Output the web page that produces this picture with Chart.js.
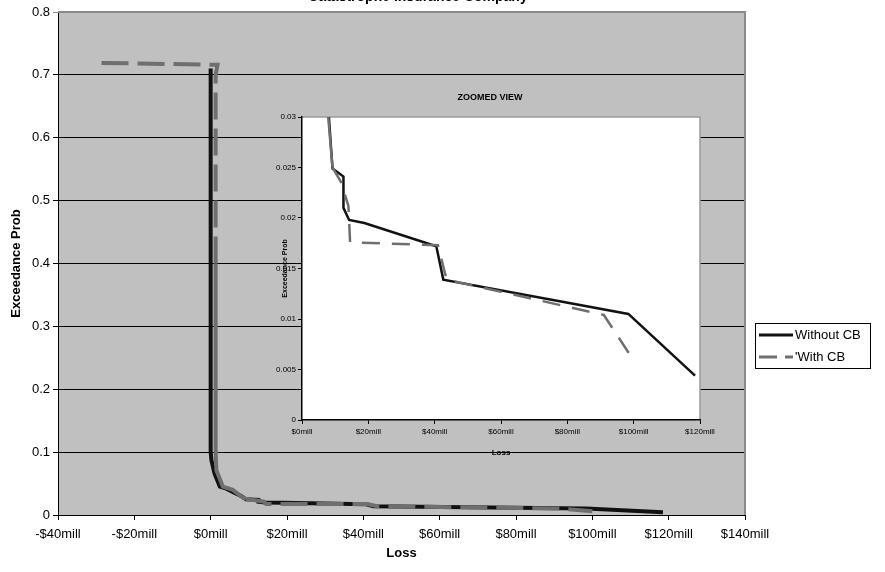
<!DOCTYPE html>
<html>
<head>
<meta charset="utf-8">
<script src="https://cdn.jsdelivr.net/npm/chart.js"></script>
<style>
  body { margin: 0; background: #fff; }
  #wrap { position: relative; width: 885px; height: 572px; }
  #main { position: absolute; left: 0; top: 0; }
  #zoom { position: absolute; left: 255px; top: 80px; }
</style>
</head>
<body>
<div id="wrap">
  <canvas id="main" width="885" height="572"></canvas>
  <canvas id="zoom" width="470" height="385"></canvas>
</div>
<script>
// loss in $mill, exceedance probability
const lossWithout = [0, 0, 0.2, 1.0, 2.4, 4.1, 6.7, 8.1, 9.2, 12.5, 12.5, 14.2, 18.8, 40.5, 42.6, 98.4, 118.5];
const probWithout = [0.71, 0.10, 0.087, 0.066, 0.045, 0.042, 0.034, 0.030, 0.0249, 0.0241, 0.021, 0.0198, 0.0195, 0.0172, 0.0139, 0.0105, 0.0044];
const lossWith = [-28.6, 1.8, 1.3, 1.3, 1.3, 1.5, 3.2, 5.8, 7.9, 9.2, 11.7, 14.0, 14.5, 41.0, 43.6, 60, 91, 100];
const probWith = [0.719, 0.716, 0.70, 0.40, 0.10, 0.071, 0.045, 0.040, 0.030, 0.025, 0.0236, 0.0212, 0.0176, 0.0173, 0.0139, 0.0127, 0.0104, 0.0059];
const seriesNames = ['Without CB', "'With CB"];
const chartTitle = 'Catastrophe Insurance Company';
const zoomTitle = 'ZOOMED VIEW';

const FONT = "'Liberation Sans', Arial, sans-serif";
Chart.defaults.font.family = FONT;
Chart.defaults.color = '#000';

const pts = (xs, ys) => xs.map((x, i) => ({ x: x, y: ys[i] }));
const money = v => (v < 0 ? '-$' + Math.abs(v) : '$' + v) + 'mill';

// the dense steep part of the With CB curve reads as a solid line
function makeSets(w, dash) {
  return [{
    label: seriesNames[0],
    data: pts(lossWithout, probWithout),
    showLine: true, pointRadius: 0, borderColor: '#111', borderWidth: w,
    order: 2
  }, {
    label: seriesNames[1],
    data: pts(lossWith, probWith),
    showLine: true, pointRadius: 0, borderColor: '#6f6f6f', borderWidth: w,
    borderDash: dash, order: 1,
    segment: {
      borderDash: s => (s.p0.parsed.y <= 0.4 && s.p0.parsed.y > 0.025) ? [] : dash
    }
  }];
}

const mainDeco = {
  id: 'mainDeco',
  beforeDraw(c) {
    const a = c.chartArea, ctx = c.ctx;
    ctx.save();
    ctx.fillStyle = '#c0c0c0';
    ctx.fillRect(a.left, a.top, a.right - a.left, a.bottom - a.top);
    ctx.restore();
  },
  afterDraw(c) {
    const a = c.chartArea, ctx = c.ctx;
    ctx.save();
    ctx.strokeStyle = '#8a8a8a';
    ctx.lineWidth = 2;
    ctx.beginPath();
    ctx.moveTo(a.left, a.top); ctx.lineTo(a.right, a.top); ctx.lineTo(a.right, a.bottom);
    ctx.stroke();
    // title sits mostly above the picture
    ctx.fillStyle = '#000';
    ctx.font = 'bold 14px ' + FONT;
    ctx.textAlign = 'center';
    ctx.textBaseline = 'alphabetic';
    ctx.fillText(chartTitle, 418, 0.5);
    // legend
    ctx.fillStyle = '#fff';
    ctx.fillRect(755, 323, 115, 45);
    ctx.strokeStyle = '#000';
    ctx.lineWidth = 1;
    ctx.strokeRect(755.5, 323.5, 115, 45);
    ctx.lineWidth = 3;
    ctx.strokeStyle = '#111';
    ctx.beginPath(); ctx.moveTo(759, 335); ctx.lineTo(793, 335); ctx.stroke();
    ctx.strokeStyle = '#6f6f6f';
    ctx.setLineDash([18, 8]);
    ctx.beginPath(); ctx.moveTo(759, 357); ctx.lineTo(793, 357); ctx.stroke();
    ctx.setLineDash([]);
    ctx.fillStyle = '#000';
    ctx.font = '13px ' + FONT;
    ctx.textAlign = 'left';
    ctx.textBaseline = 'middle';
    ctx.fillText(seriesNames[0], 795, 335);
    ctx.fillText(seriesNames[1], 795, 357);
    ctx.restore();
  }
};

new Chart(document.getElementById('main'), {
  type: 'scatter',
  data: { datasets: makeSets(4, [27, 9]) },
  options: {
    responsive: false, animation: false, devicePixelRatio: 1,
    layout: { padding: { left: 0, right: 140, top: 12, bottom: 0 } },
    plugins: { legend: { display: false }, tooltip: { enabled: false } },
    scales: {
      x: {
        type: 'linear', min: -40, max: 140,
        afterFit: s => { s.height = 57; },
        ticks: { stepSize: 20, callback: money, font: { size: 13 }, padding: 7, maxRotation: 0 },
        grid: { drawOnChartArea: false, color: '#000', tickLength: 5 },
        border: { color: '#000', width: 1 },
        title: { display: true, text: 'Loss', font: { size: 13, weight: 'bold' }, padding: { top: 4, bottom: 11 } }
      },
      y: {
        min: 0, max: 0.8,
        afterFit: s => { s.width = 58; },
        ticks: { stepSize: 0.1, callback: v => String(+v.toFixed(1)), font: { size: 13 }, padding: 3 },
        grid: { color: c => c.index === 8 ? '#8a8a8a' : '#000', tickLength: 5 },
        border: { color: '#000', width: 1 },
        title: { display: true, text: 'Exceedance Prob', font: { size: 13, weight: 'bold' }, padding: { top: 9, bottom: 0 } }
      }
    }
  },
  plugins: [mainDeco]
});

const zoomDeco = {
  id: 'zoomDeco',
  beforeDraw(c) {
    const a = c.chartArea, ctx = c.ctx;
    ctx.save();
    ctx.fillStyle = '#fff';
    ctx.fillRect(a.left, a.top, a.right - a.left, a.bottom - a.top);
    ctx.strokeStyle = '#9a9a9a';
    ctx.lineWidth = 1.5;
    ctx.beginPath();
    ctx.moveTo(a.left, a.top); ctx.lineTo(a.right, a.top); ctx.lineTo(a.right, a.bottom);
    ctx.stroke();
    ctx.restore();
  },
  afterDraw(c) {
    const ctx = c.ctx;
    ctx.save();
    ctx.fillStyle = '#000';
    ctx.font = 'bold 9px ' + FONT;
    ctx.textAlign = 'center';
    ctx.textBaseline = 'middle';
    ctx.fillText(zoomTitle, 235, 18);
    ctx.restore();
  }
};

new Chart(document.getElementById('zoom'), {
  type: 'scatter',
  data: { datasets: makeSets(2.5, [18, 12]) },
  options: {
    responsive: false, animation: false, devicePixelRatio: 1,
    layout: { padding: { left: 0, right: 25, top: 37, bottom: 0 } },
    plugins: { legend: { display: false }, tooltip: { enabled: false } },
    scales: {
      x: {
        type: 'linear', min: 0, max: 120,
        afterFit: s => { s.height = 45; },
        ticks: { stepSize: 20, callback: money, font: { size: 8 }, padding: 3, maxRotation: 0 },
        grid: { drawOnChartArea: false, color: '#000', tickLength: 4 },
        border: { color: '#000', width: 1.5 },
        title: { display: true, text: 'Loss', font: { size: 8, weight: 'bold' }, padding: { top: 2, bottom: 7 } }
      },
      y: {
        min: 0, max: 0.03,
        afterFit: s => { s.width = 47; },
        ticks: { stepSize: 0.005, callback: v => String(+v.toFixed(3)), font: { size: 8 }, padding: 2 },
        grid: { drawOnChartArea: false, color: '#000', tickLength: 4 },
        border: { color: '#000', width: 1.5 },
        title: { display: true, text: 'Exceedance Prob', font: { size: 7, weight: 'bold' }, padding: { top: 26, bottom: 0 } }
      }
    }
  },
  plugins: [zoomDeco]
});
</script>
</body>
</html>
